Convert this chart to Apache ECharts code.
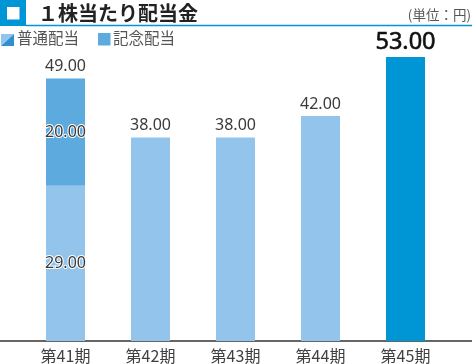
<!DOCTYPE html>
<html><head><meta charset="utf-8">
<script src="https://cdn.jsdelivr.net/npm/echarts@6/dist/echarts.min.js"></script>
<style>html,body{margin:0;padding:0;background:#fff}#c{width:472px;height:364px}</style>
</head><body><div id="c"></div>
<script>
const categories = ['第41期','第42期','第43期','第44期','第45期'];
const ordinary = [29, 38, 38, 42, 53];
const commemorative = [20, null, null, null, null];
const totals = [49, 38, 38, 42, 53];
const title = '１株当たり配当金';
const unit = '(単位：円)';
const legendNames = ['普通配当','記念配当'];

const cLight = '#93C5EC', cMid = '#5DAADF', cDark = '#0096D6';
const fontNum = '"Noto Sans", sans-serif';
const fontJP = '"Noto Sans CJK JP", sans-serif';
const outline = {color:'#3a3a3a', textBorderColor:'#fff', textBorderWidth:2};

const chart = echarts.init(document.getElementById('c'), null, {renderer:'canvas'});
const last = categories.length - 1;
chart.setOption({
  animation:false,
  grid:{left:23, right:24, top:19.6, bottom:23, containLabel:false},
  xAxis:{type:'category', data:categories,
    axisLine:{show:false}, axisTick:{show:false},
    axisLabel:{margin:7, fontSize:16, color:'#404040', fontFamily:fontJP}},
  yAxis:{type:'value', min:0, max:60, show:false, splitLine:{show:false}},
  series:[
    {name:legendNames[0], type:'bar', stack:'a', barWidth:39,
      data: ordinary.map((v,i)=>({value:v,
        itemStyle:{color: i===last ? cDark : cLight},
        label: i===0 ? {show:true, position:'inside', fontSize:16, fontFamily:fontNum, ...outline, formatter:p=>p.value.toFixed(2)}
             : i===last ? {show:true, position:'top', distance:3, fontSize:23.5, fontWeight:'normal', color:'#111', textBorderColor:'#111', textBorderWidth:0.6, fontFamily:fontNum, formatter:p=>p.value.toFixed(2)}
             : {show:true, position:'top', distance:4, fontSize:16, color:'#3a3a3a', fontFamily:fontNum, formatter:p=>p.value.toFixed(2)}
      }))},
    {name:legendNames[1], type:'bar', stack:'a', barWidth:39,
      itemStyle:{color:cMid},
      label:{show:true, position:'inside', fontSize:16, fontFamily:fontNum, ...outline, formatter:p=>p.value.toFixed(2)},
      data: commemorative},
    {name:'total', type:'bar', stack:'a', barWidth:39, itemStyle:{color:'transparent'},
      label:{show:true, position:'top', distance:4, fontSize:16, color:'#3a3a3a', fontFamily:fontNum,
        formatter:p=>totals[p.dataIndex].toFixed(2)},
      data: commemorative.map(v=> v==null ? null : 0)}
  ],
  graphic:[
    {type:'rect', shape:{x:0,y:0,width:26,height:26}, style:{fill:cDark}},
    {type:'rect', shape:{x:7,y:7,width:12.5,height:12.5}, style:{fill:'#fff'}},
    {type:'line', shape:{x1:26,y1:25.5,x2:472,y2:25.5}, style:{stroke:cDark, lineWidth:1.5}},
    {type:'text', left:38, top:3, style:{text:title, font:'bold 20px "Noto Sans CJK JP"', fill:'#222'}},
    {type:'text', right:1, top:8, style:{text:unit, font:'13.5px "Noto Sans CJK JP"', fill:'#555'}},
    {type:'polygon', shape:{points:[[1,34],[14,34],[1,46]]}, style:{fill:cLight}},
    {type:'polygon', shape:{points:[[14,34],[14,46],[1,46]]}, style:{fill:'#2E8FD3'}},
    {type:'text', left:17, top:30, style:{text:legendNames[0], font:'15.5px "Noto Sans CJK JP"', fill:'#555'}},
    {type:'rect', shape:{x:98,y:33,width:12.5,height:12.5}, style:{fill:cMid}},
    {type:'text', left:113, top:30, style:{text:legendNames[1], font:'15.5px "Noto Sans CJK JP"', fill:'#555'}},
    {type:'line', shape:{x1:0,y1:341,x2:472,y2:341}, style:{stroke:'#333', lineWidth:1.5}}
  ]
});
</script></body></html>
